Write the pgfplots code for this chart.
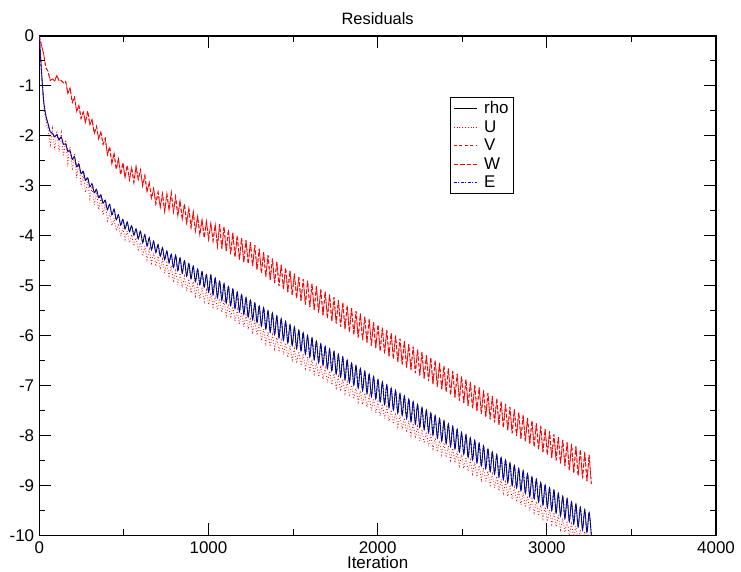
\documentclass[border=0pt]{standalone}
\usepackage{fontspec}
\setmainfont{Liberation Sans}
\usepackage{pgfplots}
\usepackage{pgfplotstable}
\pgfplotsset{compat=1.18}

\pgfplotstableread{
x rho U V
0 0 0 0
13 -0.70 -0.80 -0.19
26 -1.30 -1.40 -0.36
39 -1.60 -1.70 -0.64
52 -1.76 -1.88 -0.71
65 -1.92 -2.18 -0.89
78 -1.95 -1.85 -0.86
91 -2.02 -2.28 -0.90
104 -1.98 -1.90 -0.79
117 -2.08 -2.32 -0.90
130 -2.02 -1.94 -0.89
143 -2.17 -2.41 -0.94
156 -2.16 -2.08 -0.91
169 -2.31 -2.55 -1.15
182 -2.30 -2.22 -1.04
195 -2.47 -2.69 -1.33
208 -2.42 -2.36 -1.22
221 -2.62 -2.84 -1.51
234 -2.57 -2.51 -1.39
247 -2.76 -3.00 -1.65
260 -2.71 -2.77 -1.52
273 -2.89 -3.13 -1.73
286 -2.84 -2.90 -1.50
299 -3.02 -3.26 -1.78
312 -2.96 -3.02 -1.67
325 -3.14 -3.38 -1.95
338 -3.07 -3.13 -1.81
351 -3.24 -3.48 -2.06
364 -3.18 -3.24 -1.92
377 -3.35 -3.59 -2.17
390 -3.29 -3.35 -2.05
403 -3.48 -3.70 -2.38
416 -3.37 -3.55 -2.22
429 -3.58 -3.80 -2.56
442 -3.47 -3.65 -2.35
455 -3.68 -3.90 -2.67
468 -3.58 -3.76 -2.46
481 -3.79 -4.01 -2.78
494 -3.67 -3.85 -2.54
507 -3.86 -4.08 -2.83
520 -3.73 -3.91 -2.59
533 -3.92 -4.14 -2.88
546 -3.80 -3.98 -2.64
559 -3.99 -4.21 -2.93
572 -3.86 -4.04 -2.62
585 -4.06 -4.28 -2.87
598 -3.91 -4.14 -2.68
611 -4.14 -4.41 -3.00
624 -3.98 -4.21 -2.80
637 -4.21 -4.48 -3.12
650 -4.04 -4.27 -2.93
663 -4.28 -4.55 -3.25
676 -4.11 -4.34 -3.06
689 -4.34 -4.61 -3.36
702 -4.18 -4.41 -3.13
715 -4.41 -4.68 -3.42
728 -4.24 -4.47 -3.16
741 -4.48 -4.75 -3.52
754 -4.31 -4.54 -3.16
767 -4.54 -4.81 -3.48
780 -4.37 -4.60 -3.14
793 -4.64 -4.93 -3.52
806 -4.39 -4.70 -3.22
819 -4.70 -4.99 -3.60
832 -4.44 -4.75 -3.30
845 -4.75 -5.04 -3.67
858 -4.50 -4.81 -3.37
871 -4.81 -5.10 -3.75
884 -4.56 -4.87 -3.45
897 -4.86 -5.15 -3.83
910 -4.61 -4.92 -3.53
923 -4.92 -5.21 -3.91
936 -4.67 -4.98 -3.61
949 -4.98 -5.27 -3.98
962 -4.72 -5.03 -3.68
975 -5.03 -5.32 -4.04
988 -4.78 -5.09 -3.71
1001 -5.13 -5.38 -4.07
1014 -4.79 -5.14 -3.75
1027 -5.18 -5.43 -4.10
1040 -4.85 -5.20 -3.78
1053 -5.24 -5.49 -4.21
1066 -4.91 -5.26 -3.77
1079 -5.29 -5.54 -4.26
1092 -4.96 -5.31 -3.82
1105 -5.35 -5.60 -4.31
1118 -5.02 -5.37 -3.88
1131 -5.40 -5.65 -4.37
1144 -5.07 -5.42 -3.94
1157 -5.46 -5.71 -4.43
1170 -5.13 -5.48 -4.00
1183 -5.52 -5.77 -4.48
1196 -5.18 -5.53 -4.05
1209 -5.57 -5.82 -4.53
1222 -5.24 -5.59 -4.09
1235 -5.63 -5.88 -4.57
1248 -5.29 -5.64 -4.13
1261 -5.68 -5.93 -4.61
1274 -5.35 -5.70 -4.19
1287 -5.74 -5.99 -4.68
1300 -5.41 -5.76 -4.26
1313 -5.81 -6.10 -4.75
1326 -5.44 -5.87 -4.33
1339 -5.87 -6.16 -4.82
1352 -5.50 -5.93 -4.39
1365 -5.93 -6.22 -4.89
1378 -5.55 -5.98 -4.46
1391 -5.98 -6.27 -4.95
1404 -5.61 -6.04 -4.52
1417 -6.04 -6.33 -5.01
1430 -5.66 -6.09 -4.58
1443 -6.09 -6.38 -5.07
1456 -5.72 -6.15 -4.64
1469 -6.15 -6.44 -5.13
1482 -5.78 -6.21 -4.70
1495 -6.20 -6.49 -5.19
1508 -5.83 -6.26 -4.76
1521 -6.26 -6.55 -5.25
1534 -5.89 -6.32 -4.82
1547 -6.31 -6.60 -5.31
1560 -5.94 -6.37 -4.87
1573 -6.37 -6.66 -5.38
1586 -6.00 -6.43 -4.90
1599 -6.43 -6.72 -5.43
1612 -6.05 -6.48 -4.96
1625 -6.48 -6.77 -5.49
1638 -6.11 -6.54 -5.01
1651 -6.54 -6.83 -5.54
1664 -6.17 -6.60 -5.07
1677 -6.59 -6.88 -5.60
1690 -6.22 -6.65 -5.12
1703 -6.66 -6.94 -5.65
1716 -6.27 -6.71 -5.18
1729 -6.71 -6.99 -5.71
1742 -6.32 -6.76 -5.23
1755 -6.77 -7.05 -5.76
1768 -6.38 -6.82 -5.29
1781 -6.83 -7.11 -5.82
1794 -6.43 -6.87 -5.34
1807 -6.88 -7.16 -5.87
1820 -6.49 -6.93 -5.40
1833 -6.94 -7.22 -5.93
1846 -6.55 -6.99 -5.45
1859 -6.99 -7.27 -5.98
1872 -6.60 -7.04 -5.51
1885 -7.05 -7.33 -6.04
1898 -6.66 -7.10 -5.56
1911 -7.10 -7.38 -6.09
1924 -6.71 -7.15 -5.62
1937 -7.16 -7.44 -6.15
1950 -6.77 -7.21 -5.67
1963 -7.22 -7.50 -6.20
1976 -6.82 -7.26 -5.73
1989 -7.27 -7.55 -6.25
2002 -6.88 -7.32 -5.78
2015 -7.33 -7.61 -6.31
2028 -6.93 -7.37 -5.84
2041 -7.38 -7.66 -6.36
2054 -6.99 -7.43 -5.89
2067 -7.44 -7.72 -6.42
2080 -7.05 -7.49 -5.95
2093 -7.49 -7.77 -6.47
2106 -7.10 -7.54 -6.00
2119 -7.55 -7.83 -6.53
2132 -7.16 -7.60 -6.06
2145 -7.60 -7.88 -6.58
2158 -7.21 -7.65 -6.11
2171 -7.66 -7.94 -6.64
2184 -7.27 -7.71 -6.17
2197 -7.72 -8.00 -6.69
2210 -7.32 -7.76 -6.22
2223 -7.77 -8.05 -6.75
2236 -7.38 -7.82 -6.28
2249 -7.83 -8.11 -6.80
2262 -7.44 -7.88 -6.33
2275 -7.88 -8.16 -6.86
2288 -7.49 -7.93 -6.39
2301 -7.94 -8.22 -6.91
2314 -7.55 -7.99 -6.44
2327 -7.99 -8.27 -6.97
2340 -7.60 -8.04 -6.50
2353 -8.05 -8.33 -7.02
2366 -7.66 -8.10 -6.55
2379 -8.11 -8.39 -7.08
2392 -7.71 -8.15 -6.61
2405 -8.16 -8.44 -7.13
2418 -7.77 -8.21 -6.66
2431 -8.22 -8.50 -7.19
2444 -7.82 -8.26 -6.71
2457 -8.27 -8.55 -7.24
2470 -7.88 -8.32 -6.77
2483 -8.33 -8.61 -7.30
2496 -7.94 -8.38 -6.82
2509 -8.38 -8.66 -7.35
2522 -7.99 -8.43 -6.88
2535 -8.44 -8.72 -7.41
2548 -8.05 -8.49 -6.93
2561 -8.49 -8.77 -7.46
2574 -8.10 -8.54 -6.99
2587 -8.55 -8.83 -7.52
2600 -8.16 -8.60 -7.04
2613 -8.61 -8.89 -7.57
2626 -8.21 -8.65 -7.10
2639 -8.66 -8.94 -7.63
2652 -8.27 -8.71 -7.15
2665 -8.72 -9.00 -7.68
2678 -8.33 -8.77 -7.21
2691 -8.77 -9.05 -7.74
2704 -8.38 -8.82 -7.26
2717 -8.83 -9.11 -7.79
2730 -8.44 -8.88 -7.32
2743 -8.88 -9.16 -7.85
2756 -8.49 -8.93 -7.37
2769 -8.94 -9.22 -7.90
2782 -8.55 -8.99 -7.43
2795 -9.00 -9.28 -7.96
2808 -8.60 -9.04 -7.48
2821 -9.05 -9.33 -8.01
2834 -8.66 -9.10 -7.54
2847 -9.11 -9.39 -8.07
2860 -8.71 -9.15 -7.59
2873 -9.16 -9.44 -8.12
2886 -8.77 -9.21 -7.65
2899 -9.22 -9.50 -8.17
2912 -8.83 -9.27 -7.70
2925 -9.27 -9.55 -8.23
2938 -8.88 -9.32 -7.76
2951 -9.33 -9.61 -8.28
2964 -8.94 -9.38 -7.81
2977 -9.39 -9.67 -8.34
2990 -8.99 -9.43 -7.87
3003 -9.44 -9.72 -8.39
3016 -9.05 -9.49 -7.92
3029 -9.50 -9.78 -8.45
3042 -9.10 -9.54 -7.98
3055 -9.55 -9.83 -8.50
3068 -9.16 -9.60 -8.03
3081 -9.61 -9.89 -8.56
3094 -9.22 -9.66 -8.09
3107 -9.66 -9.94 -8.61
3120 -9.27 -9.71 -8.14
3133 -9.72 -10.00 -8.70
3146 -9.33 -9.77 -8.17
3159 -9.77 -10.05 -8.75
3172 -9.38 -9.82 -8.22
3185 -9.83 -10.11 -8.81
3198 -9.44 -9.88 -8.28
3211 -9.89 -10.17 -8.86
3224 -9.49 -9.93 -8.33
3237 -9.94 -10.22 -8.92
3250 -9.55 -9.99 -8.39
3263 -10.00 -10.28 -8.97
}\resid

\begin{document}
\begin{tikzpicture}
\begin{axis}[
  scale only axis,
  width=677bp, height=499.5bp,
  xmin=0, xmax=4000, ymin=-10, ymax=0,
  xtick={0,1000,2000,3000,4000},
  ytick={-10,-9,-8,-7,-6,-5,-4,-3,-2,-1,0},
  minor x tick num=1, minor y tick num=1,
  tick align=inside,
  major tick length=12bp, minor tick length=6bp,
  every tick/.style={black, line width=0.9bp},
  axis line style={line width=1.2bp},
  /pgf/number format/assume math mode=true,
  /pgf/number format/1000 sep={},
  scaled ticks=false,
  ticklabel style={font=\fontsize{17}{19}\selectfont},
  yticklabel style={inner sep=0bp, xshift=-5bp},
  xticklabel style={inner sep=0bp, yshift=-6bp},
  title={Residuals},
  title style={font=\fontsize{16.5}{19}\selectfont, inner sep=0bp, yshift=5bp},
  xlabel={Iteration},
  xlabel style={font=\fontsize{17}{19}\selectfont, inner sep=0bp, yshift=-3bp},
  legend style={at={(0.607,0.878)}, anchor=north west, draw=black,
    line width=0.6bp, font=\fontsize{17}{19}\selectfont,
    inner xsep=3bp, inner ysep=2bp, row sep=1.5bp},
  legend cell align=left,
  legend image code/.code={\draw[#1] (0bp,0bp) -- (23bp,0bp); \path (28bp,0bp);},
]
\addplot[black, line width=0.8bp, smooth, tension=0.5] table[x=x, y=rho]{\resid};
\addplot[red, line width=0.8bp, dotted] table[x=x, y=U]{\resid};
\addplot[red, line width=0.8bp, dash pattern=on 3bp off 2.5bp] table[x=x, y=V]{\resid};
\addplot[red, line width=0.8bp, dash pattern=on 4.5bp off 2bp] table[x=x, y=V]{\resid};
\addplot[blue, line width=0.8bp, smooth, tension=0.5, dash pattern=on 3bp off 1.5bp on 1bp off 1.5bp] table[x=x, y=rho]{\resid};
\legend{rho,U,V,W,E}
\end{axis}
\pgfresetboundingbox
\path ([shift={(-39.3bp,-36.5bp)}]current axis.south west) rectangle ([shift={(25bp,36bp)}]current axis.north east);
\end{tikzpicture}
\end{document}
